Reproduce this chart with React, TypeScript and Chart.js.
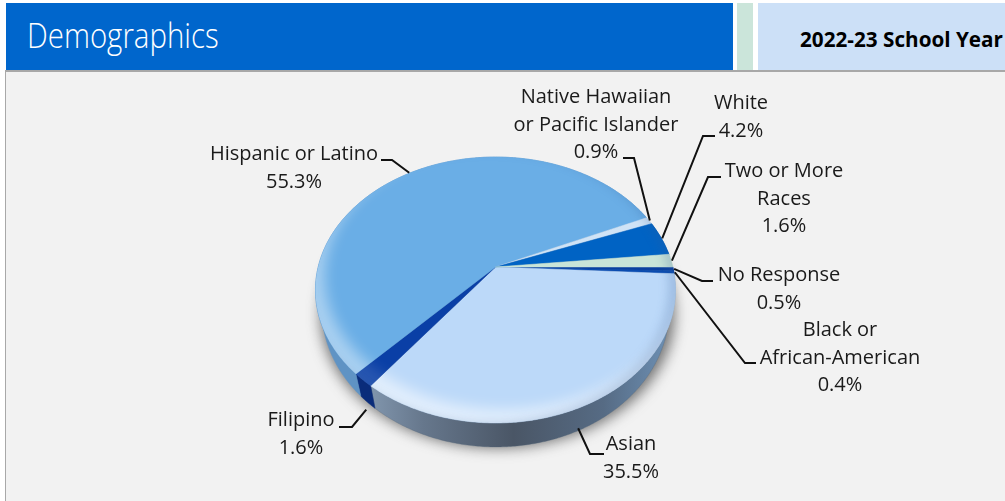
import React, { useEffect, useRef } from "react";
import { Chart, registerables } from "chart.js";

Chart.register(...registerables);

const categories = ["No Response", "Black or African-American", "Asian", "Filipino", "Hispanic or Latino", "Native Hawaiian or Pacific Islander", "White", "Two or More Races"];
const shares = [0.5, 0.4, 35.5, 1.6, 55.3, 0.9, 4.2, 1.6];
const topColors = ["#0a3f9e", "#0a4cb0", "#bcd9f9", "#0a3fa6", "#6aaee6", "#cfe3f6", "#0063c4", "#c9e4d8"];
const sideColors = ["#0a2f70", "#0a2f70", "#5f7690", "#0a2c7a", "#5f93c4", "#a9bed0", "#0a4f96", "#9fb8ac"];
const rimLight = [0.1, 0.1, 0.55, 0.12, 0.42, 0.3, 0.1, 0.3];

const labelLines = [
  ["No Response", "0.5%"],
  ["Black or", "African-American", "0.4%"],
  ["Asian", "35.5%"],
  ["Filipino", "1.6%"],
  ["Hispanic or Latino", "55.3%"],
  ["Native Hawaiian", "or Pacific Islander", "0.9%"],
  ["White", "4.2%"],
  ["Two or More", "Races", "1.6%"],
];
const labelCentreX = [779, 840, 631, 301, 294, 596, 741, 784];
const labelTopY = [275, 330, 444, 420, 154, 97, 103, 171];
const leaderStart = [[713, 281], [756, 363], [604, 454], [339, 427], [381, 160], [623, 158], [715, 136], [721, 177]];
const leaderElbow = [[702, 281], [745, 363], [590, 454], [352, 427], [392, 160], [634, 158], [703, 136], [708, 177]];
const leaderDrop = [0, 0, 25, 29, 0, 0, 0, 0];
const leaderShift = [0, 0, -14, 4, 0, 0, 0, 0];

const W = 1005, H = 501;
const CX = 495.5, APEX_Y = 267, A = 177.3, PA = 82.8, PK = -0.173, DEPTH = 24, WARP = 0.084;
const project = (t0: number, r = 1) => {
  const t = t0 - WARP * Math.max(0, Math.sin(t0));
  const u = Math.cos(t) * r, v = Math.sin(t) * r;
  const d = 1 + PK * v;
  return [CX + (A * u) / d, (PA * v + APEX_Y) / d];
};
const ELL = { cx: 495.5, cy: 290, rx: 180, ry: 133 };

function pathSlice(ctx: CanvasRenderingContext2D, s: number, e: number) {
  ctx.beginPath();
  ctx.moveTo(CX, APEX_Y);
  const n = Math.max(4, Math.ceil((e - s) / 0.01));
  for (let i = 0; i <= n; i++) {
    const p = project(s + ((e - s) * i) / n);
    ctx.lineTo(p[0], p[1]);
  }
  ctx.closePath();
}
function pathWall(ctx: CanvasRenderingContext2D, s: number, e: number) {
  const n = Math.max(4, Math.ceil((e - s) / 0.01));
  ctx.beginPath();
  for (let i = 0; i <= n; i++) {
    const p = project(s + ((e - s) * i) / n);
    if (i === 0) ctx.moveTo(p[0], p[1]);
    else ctx.lineTo(p[0], p[1]);
  }
  for (let i = n; i >= 0; i--) {
    const t = s + ((e - s) * i) / n;
    const p = project(t);
    const q = p[0] + (CX - p[0]) * 0.035;
    ctx.lineTo(q, p[1] + DEPTH * (0.75 + 0.25 * Math.max(0, Math.sin(t))));
  }
  ctx.closePath();
}

const pie3d = {
  id: "pie3d",
  beforeDatasetDraw(chart: any) {
    const ctx: CanvasRenderingContext2D = chart.ctx;
    const arcs = chart.getDatasetMeta(0).data;
    ctx.save();
    ctx.filter = "blur(7px)";
    ctx.fillStyle = "rgba(60,60,60,0.7)";
    ctx.beginPath();
    ctx.ellipse(ELL.cx + 2, ELL.cy + 24, ELL.rx - 3, ELL.ry + 1, 0, 0, Math.PI * 2);
    ctx.fill();
    ctx.restore();
    arcs.forEach((arc: any, i: number) => {
      ctx.save();
      pathWall(ctx, arc.startAngle, arc.endAngle);
      const g = ctx.createLinearGradient(ELL.cx - ELL.rx, 0, ELL.cx + ELL.rx, 0);
      if (i === 2) {
        g.addColorStop(0.1, "#8aa0b8");
        g.addColorStop(0.3, "#66778c");
        g.addColorStop(0.55, "#4a5666");
        g.addColorStop(0.8, "#566b84");
        g.addColorStop(1, "#6f93b8");
      } else {
        g.addColorStop(0, sideColors[i]);
        g.addColorStop(1, sideColors[i]);
      }
      ctx.fillStyle = g;
      ctx.strokeStyle = i === 2 ? "rgba(80,100,120,0.6)" : sideColors[i];
      ctx.lineWidth = 0.5;
      ctx.fill();
      ctx.stroke();
      ctx.restore();
    });
    arcs.forEach((arc: any, i: number) => {
      ctx.save();
      pathSlice(ctx, arc.startAngle, arc.endAngle);
      ctx.fillStyle = topColors[i];
      ctx.strokeStyle = topColors[i];
      ctx.lineWidth = 0.5;
      ctx.fill();
      ctx.stroke();
      ctx.clip();
      ctx.filter = "blur(7px)";
      ctx.fillStyle = `rgba(255,255,255,${rimLight[i]})`;
      ctx.beginPath();
      ctx.ellipse(ELL.cx, ELL.cy, ELL.rx + 20, ELL.ry + 20, 0, 0, Math.PI * 2);
      ctx.ellipse(ELL.cx + 9, ELL.cy - 14, ELL.rx, ELL.ry, 0, 0, Math.PI * 2, true);
      ctx.fill("evenodd");
      ctx.filter = "blur(5px)";
      ctx.fillStyle = "rgba(50,90,150,0.22)";
      ctx.beginPath();
      ctx.ellipse(ELL.cx, ELL.cy, ELL.rx + 20, ELL.ry + 20, 0, 0, Math.PI * 2);
      ctx.ellipse(ELL.cx - 7, ELL.cy - 3, ELL.rx, ELL.ry + 3, 0, 0, Math.PI * 2, true);
      ctx.fill("evenodd");
      ctx.restore();
    });
    return false;
  },
  afterDraw(chart: any) {
    const ctx: CanvasRenderingContext2D = chart.ctx;
    const arcs = chart.getDatasetMeta(0).data;
    ctx.save();
    ctx.font = "20px 'Open Sans'";
    ctx.fillStyle = "#1a1a1a";
    ctx.textAlign = "center";
    ctx.textBaseline = "middle";
    labelLines.forEach((lines, i) => {
      lines.forEach((line, j) => ctx.fillText(line, labelCentreX[i], labelTopY[i] + j * 27.8));
    });
    ctx.strokeStyle = "#111";
    ctx.lineWidth = 2;
    arcs.forEach((arc: any, i: number) => {
      const mid = (arc.startAngle + arc.endAngle) / 2;
      const p = project(mid, 1.005);
      ctx.beginPath();
      ctx.moveTo(leaderStart[i][0], leaderStart[i][1]);
      ctx.lineTo(leaderElbow[i][0], leaderElbow[i][1]);
      ctx.lineTo(p[0] + leaderShift[i], p[1] + leaderDrop[i]);
      ctx.stroke();
    });
    ctx.restore();
  },
};

export default function App() {
  const ref = useRef<HTMLCanvasElement>(null);
  useEffect(() => {
    document.body.style.margin = "0";
    const chart = new Chart(ref.current!, {
      type: "pie",
      data: { labels: categories, datasets: [{ data: shares, backgroundColor: topColors, borderWidth: 0 }] },
      options: {
        animation: false,
        responsive: false,
        devicePixelRatio: 1,
        rotation: 90,
        plugins: { legend: { display: false }, tooltip: { enabled: false }, title: { display: false } },
      },
      plugins: [pie3d],
    } as any);
    return () => chart.destroy();
  }, []);
  const box = (l: number, t: number, w: number, h: number, bg: string): React.CSSProperties => ({ position: "absolute", left: l, top: t, width: w, height: h, background: bg });
  return (
    <div style={{ position: "relative", width: W, height: H, overflow: "hidden", background: "#fff" }}>
      <div style={box(6, 70, 999, 431, "#f2f2f2")} />
      <div style={box(5, 70, 1, 431, "#a8a8a8")} />
      <div style={box(5, 70, 1000, 2, "#a8a8a8")} />
      <div style={box(6, 3, 727, 67, "#0066cc")} />
      <div style={box(737, 3, 16, 67, "#cbe5da")} />
      <div style={box(758, 3, 247, 67, "#cce0f7")} />
      <div style={{ position: "absolute", left: 27, top: 11, color: "#fff", font: "300 35px 'Open Sans'", whiteSpace: "nowrap", transform: "scaleX(0.84)", transformOrigin: "left top" }}>Demographics</div>
      <div style={{ position: "absolute", left: 800, top: 25, color: "#000", font: "700 20.7px 'Open Sans'", whiteSpace: "nowrap" }}>2022-23 School Year</div>
      <canvas ref={ref} width={W} height={H} style={{ position: "absolute", left: 0, top: 0 }} />
    </div>
  );
}
